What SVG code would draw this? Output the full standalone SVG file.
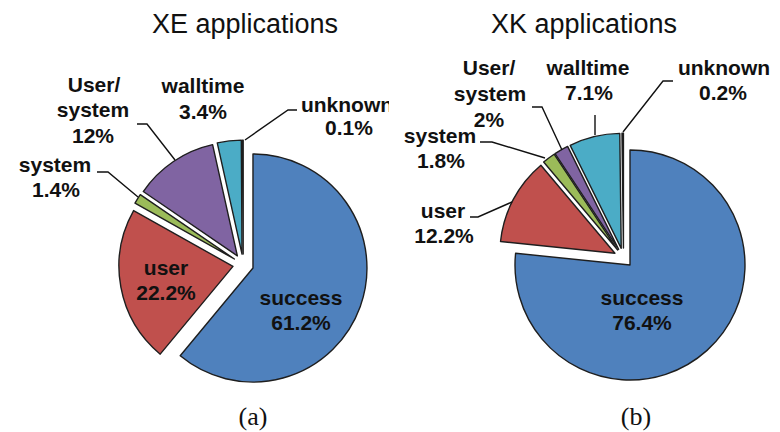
<svg xmlns="http://www.w3.org/2000/svg" width="780" height="432" viewBox="0 0 780 432">
<style>
.bg{fill:#ffffff}
.title{font-family:"Liberation Sans",Arial,sans-serif;font-size:27px;fill:#111;text-anchor:middle}
.lbl{font-family:"Liberation Sans",Arial,sans-serif;font-size:21px;font-weight:bold;fill:#111;text-anchor:middle}
.cap{font-family:"Liberation Serif","Times New Roman",serif;font-size:26px;fill:#111;text-anchor:middle}
.sl{stroke:#1e1e1e;stroke-width:1.4;stroke-linejoin:round}
.succ{fill:#4F81BD}.user{fill:#C0504D}.sys{fill:#9BBB59}.us{fill:#8064A2}.wall{fill:#4BACC6}.unk{fill:#111}
.lead{fill:none;stroke:#111;stroke-width:1.4}
</style>
<defs>
<clipPath id="clipA"><rect x="0" y="0" width="389" height="432"/></clipPath>
</defs>
<rect class="bg" x="0" y="0" width="780" height="432"/>

<text class="title" x="245" y="33">XE applications</text>
<text class="title" x="584" y="33">XK applications</text>

<g id="pieA">
<g id="a-success"><path class="sl succ" d="M252.98,268.03 L252.98,154.03 A114,114 0 1 1 180.21,355.80 Z"/></g>
<g id="a-user"><path class="sl user" d="M232.97,266.40 L160.20,354.17 A114,114 0 0 1 133.60,210.55 Z"/></g>
<g id="a-system"><path class="sl sys" d="M234.37,259.01 L135.00,203.16 A114,114 0 0 1 140.26,194.66 Z"/></g>
<g id="a-usersys"><path class="sl us" d="M237.37,255.89 L143.26,191.54 A114,114 0 0 1 212.59,144.61 Z"/></g>
<g id="a-walltime"><path class="sl wall" d="M242.03,254.17 L217.25,142.89 A114,114 0 0 1 241.31,140.17 Z"/></g>
<g id="a-unknown"><path class="sl unk" d="M243.17,254.10 L242.45,140.10 A114,114 0 0 1 243.17,140.10 Z"/></g>
</g>

<g id="pieB">
<g id="b-success"><path class="sl succ" d="M630.00,265.00 L630.00,150.00 A115,115 0 1 1 515.60,253.24 Z"/></g>
<g id="b-user"><path class="sl user" d="M614.93,253.26 L500.53,241.50 A115,115 0 0 1 540.89,165.26 Z"/></g>
<g id="b-system"><path class="sl sys" d="M617.69,250.04 L543.65,162.04 A115,115 0 0 1 554.09,154.22 Z"/></g>
<g id="b-usersys"><path class="sl us" d="M618.66,249.40 L555.06,153.58 A115,115 0 0 1 567.60,146.36 Z"/></g>
<g id="b-walltime"><path class="sl wall" d="M621.23,248.37 L570.17,145.33 A115,115 0 0 1 619.78,133.38 Z"/></g>
<g id="b-unknown"><path class="sl unk" d="M623.44,248.10 L621.99,133.11 A115,115 0 0 1 623.44,133.10 Z"/></g>
</g>

<g id="connectors">
<path class="lead" d="M137,124 H147 L175,160"/>
<path class="lead" d="M97,172 H108 L138,197"/>
<path class="lead" d="M297,110 H288 L245,140"/>
<path class="lead" d="M532,107 H542 L562,150"/>
<path class="lead" d="M480,142 H492 L545,158"/>
<path class="lead" d="M470,217 H478 L512,202"/>
<path class="lead" d="M595,115 V135"/>
<path class="lead" d="M673,81 H663 L623,132"/>
</g>

<g id="labelsA">
<text class="lbl" x="94" y="92">User/</text>
<text class="lbl" x="93" y="117">system</text>
<text class="lbl" x="93" y="143">12%</text>
<text class="lbl" x="203" y="93">walltime</text>
<text class="lbl" x="203" y="119">3.4%</text>
<text class="lbl" x="347" y="112" clip-path="url(#clipA)">unknown</text>
<text class="lbl" x="349" y="135">0.1%</text>
<text class="lbl" x="55" y="172">system</text>
<text class="lbl" x="56" y="197">1.4%</text>
<text class="lbl" x="166" y="275">user</text>
<text class="lbl" x="166" y="300">22.2%</text>
<text class="lbl" x="301" y="305">success</text>
<text class="lbl" x="301" y="330">61.2%</text>
</g>

<g id="labelsB">
<text class="lbl" x="489" y="75">User/</text>
<text class="lbl" x="490" y="101">system</text>
<text class="lbl" x="489" y="127">2%</text>
<text class="lbl" x="588" y="75">walltime</text>
<text class="lbl" x="589" y="100">7.1%</text>
<text class="lbl" x="724" y="75">unknown</text>
<text class="lbl" x="723" y="100">0.2%</text>
<text class="lbl" x="440" y="143">system</text>
<text class="lbl" x="441" y="168">1.8%</text>
<text class="lbl" x="443" y="218">user</text>
<text class="lbl" x="444" y="243">12.2%</text>
<text class="lbl" x="642" y="305">success</text>
<text class="lbl" x="642" y="330">76.4%</text>
</g>

<text class="cap" x="253" y="425">(a)</text>
<text class="cap" x="636" y="425">(b)</text>
</svg>
